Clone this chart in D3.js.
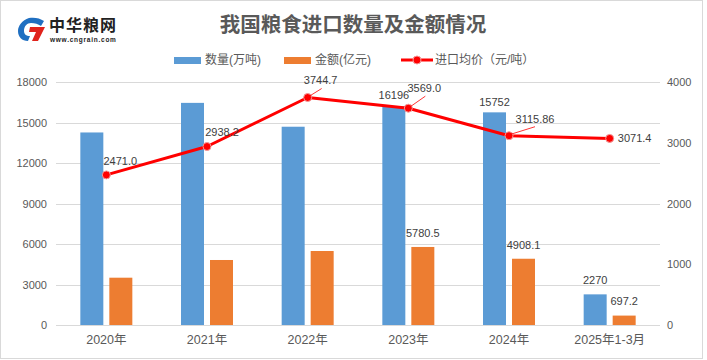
<!DOCTYPE html>
<html><head><meta charset="utf-8">
<script src="https://cdn.jsdelivr.net/npm/d3@7/dist/d3.min.js"></script>
<style>
html,body{margin:0;padding:0;background:#fff;}
svg{display:block;font-family:"Liberation Sans","Noto Sans CJK SC",sans-serif;}
</style></head>
<body>
<script>
// ---- data ----
const categories = ["2020年","2021年","2022年","2023年","2024年","2025年1-3月"];
const quantity = [14262, 16454, 14687, 16196, 15752, 2270];   // 数量(万吨)
const amount   = [3504, 4815, 5481, 5780.5, 4908.1, 697.2];   // 金额(亿元)
const price    = [2471.0, 2938.2, 3744.7, 3569.0, 3115.86, 3071.4]; // 进口均价
const quantityLabels = ["", "", "", "16196", "15752", "2270"];
const amountLabels   = ["", "", "", "5780.5", "4908.1", "697.2"];
const priceLabels    = ["2471.0", "2938.2", "3744.7", "3569.0", "3115.86", "3071.4"];
const leftTicks  = [0, 3000, 6000, 9000, 12000, 15000, 18000];
const rightTicks = [0, 1000, 2000, 3000, 4000];
const seriesNames = ["数量(万吨)", "金额(亿元)", "进口均价（元/吨）"];

// ---- layout / style ----
const W = 707, H = 360;
const blue = "#5B9BD5", orange = "#ED7D31", red = "#FF0000";
const txt = "#595959", grid = "#D9D9D9";
const priceLabelPos = [
  {dx: 14, dy: -14, leader: false},
  {dx: 15, dy: -14, leader: false},
  {dx: 13, dy: -17, leader: true},
  {dx: 16, dy: -20, leader: true},
  {dx: 26, dy: -17, leader: true},
  {dx: 25, dy: 0, leader: false}
];
const qtyLabelDy = [-14, -14, -14, -11, -10, -14];

const svg = d3.select("body").append("svg").attr("width", W).attr("height", H);

svg.append("rect").attr("x", 0.5).attr("y", 0.5).attr("width", 702).attr("height", 358)
  .attr("fill", "#fff").attr("stroke", grid);

const x = d3.scaleBand().domain(categories).range([56, 660]);
const yL = d3.scaleLinear().domain([0, 18000]).range([325, 82]);
const yR = d3.scaleLinear().domain([0, 4000]).range([325, 82]);
const xs = d3.scaleBand().domain([0, 1]).range([-26, 26]).paddingInner(0.2069);

// gridlines
svg.append("g").selectAll("line").data(leftTicks).join("line")
  .attr("x1", 56).attr("x2", 660)
  .attr("y1", d => Math.round(yL(d)) + 0.5).attr("y2", d => Math.round(yL(d)) + 0.5)
  .attr("stroke", grid).attr("stroke-width", 1);

// axes
const gL = svg.append("g").attr("transform", "translate(47,0)")
  .call(d3.axisLeft(yL).tickValues(leftTicks).tickSize(0).tickPadding(0).tickFormat(d3.format("d")));
const gR = svg.append("g").attr("transform", "translate(667,0)")
  .call(d3.axisRight(yR).tickValues(rightTicks).tickSize(0).tickPadding(0).tickFormat(d3.format("d")));
const gX = svg.append("g").attr("transform", "translate(0,333)")
  .call(d3.axisBottom(x).tickSize(0).tickPadding(0));
[gL, gR, gX].forEach(g => {
  g.select(".domain").remove();
  g.selectAll("text").attr("fill", txt).attr("font-family", "Liberation Sans, Noto Sans CJK SC, sans-serif");
});
gL.selectAll("text").attr("font-size", 11);
gR.selectAll("text").attr("font-size", 11);
gX.selectAll("text").attr("font-size", 12.5).attr("dy", "0.71em").attr("y", 2);

// bars
const bars = svg.append("g");
categories.forEach((c, i) => {
  const cx = x(c) + x.bandwidth() / 2;
  bars.append("rect").attr("x", cx + xs(0)).attr("width", xs.bandwidth())
    .attr("y", yL(quantity[i])).attr("height", yL(0) - yL(quantity[i])).attr("fill", blue);
  bars.append("rect").attr("x", cx + xs(1)).attr("width", xs.bandwidth())
    .attr("y", yL(amount[i])).attr("height", yL(0) - yL(amount[i])).attr("fill", orange);
  if (quantityLabels[i]) bars.append("text").attr("x", cx + xs(0) + xs.bandwidth() / 2)
    .attr("y", yL(quantity[i]) + qtyLabelDy[i]).attr("dy", "0.35em").attr("text-anchor", "middle")
    .attr("font-size", 11).attr("fill", "#404040").text(quantityLabels[i]);
  if (amountLabels[i]) bars.append("text").attr("x", cx + xs(1) + xs.bandwidth() / 2)
    .attr("y", yL(amount[i]) - 14).attr("dy", "0.35em").attr("text-anchor", "middle")
    .attr("font-size", 11).attr("fill", "#404040").text(amountLabels[i]);
});

// line
const px = (d, i) => x(categories[i]) + x.bandwidth() / 2;
svg.append("path").datum(price)
  .attr("d", d3.line().x(px).y(d => yR(d)))
  .attr("fill", "none").attr("stroke", red).attr("stroke-width", 3).attr("stroke-linejoin", "round");
svg.append("g").selectAll("circle").data(price).join("circle")
  .attr("cx", px).attr("cy", d => yR(d)).attr("r", 4)
  .attr("fill", red).attr("stroke", "#f29a9a").attr("stroke-width", 1);

// price labels
const pl = svg.append("g");
price.forEach((d, i) => {
  const p = priceLabelPos[i];
  const cx0 = px(d, i), cy0 = yR(d);
  if (p.leader) {
    pl.append("line").attr("x1", cx0 + 2).attr("y1", cy0 - 1.5)
      .attr("x2", cx0 + p.dx + (i === 4 ? 0 : 1)).attr("y2", cy0 + p.dy + 8)
      .attr("stroke", red).attr("stroke-width", 0.8);
  }
  pl.append("text").attr("x", cx0 + p.dx).attr("y", cy0 + p.dy).attr("dy", "0.35em")
    .attr("text-anchor", "middle").attr("font-size", 11).attr("fill", "#404040").text(priceLabels[i]);
});

// title
svg.append("text").attr("x", 353).attr("y", 32).attr("text-anchor", "middle")
  .attr("font-family", "Noto Sans CJK SC, sans-serif").attr("font-weight", "bold")
  .attr("font-size", 20.5).attr("fill", txt).text("我国粮食进口数量及金额情况");

// legend
const lg = svg.append("g").attr("font-size", 12).attr("fill", txt);
lg.append("rect").attr("x", 174).attr("y", 57).attr("width", 27).attr("height", 7).attr("fill", blue);
lg.append("text").attr("x", 205).attr("y", 60).attr("dy", "0.35em").text(seriesNames[0]);
lg.append("rect").attr("x", 284).attr("y", 57).attr("width", 27).attr("height", 7).attr("fill", orange);
lg.append("text").attr("x", 315).attr("y", 60).attr("dy", "0.35em").text(seriesNames[1]);
lg.append("line").attr("x1", 401).attr("x2", 433).attr("y1", 60).attr("y2", 60).attr("stroke", red).attr("stroke-width", 3);
lg.append("circle").attr("cx", 417).attr("cy", 60).attr("r", 4).attr("fill", red).attr("stroke", "#f29a9a");
lg.append("text").attr("x", 435).attr("y", 60).attr("dy", "0.35em").text(seriesNames[2]);

// logo
const logo = svg.append("g");
logo.append("path")
  .attr("d", "M44,21 C40,18 34,17 29,18 C22,20 18,26 18,31 C18,37 22,41 28,41 L30,36 C26,36 24,34 24,31 C24,26 27,23 31,23 C35,23 38,24 41,26 Z")
  .attr("fill", "#1f6fc1");
logo.append("path").attr("d", "M30,27 L45,27 L38,41 L32,41 L36,32 L29,32 Z").attr("fill", "#e0231c");
logo.append("text").attr("x", 49).attr("y", 31).attr("font-family", "Noto Sans CJK SC, sans-serif")
  .attr("font-weight", "bold").attr("font-size", 16).attr("fill", "#222").attr("letter-spacing", 1).text("中华粮网");
logo.append("text").attr("x", 50).attr("y", 42).attr("font-family", "Liberation Sans, sans-serif")
  .attr("font-weight", "bold").attr("font-size", 6.5).attr("fill", "#222").attr("letter-spacing", 0.75).text("www.cngrain.com");
</script>
</body></html>
